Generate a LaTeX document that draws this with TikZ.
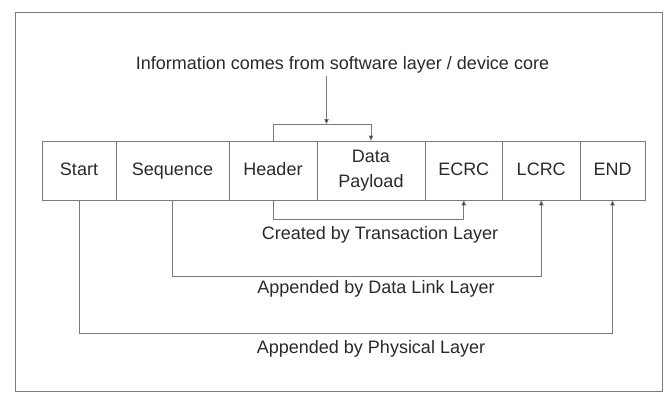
\documentclass[tikz,border=0pt]{standalone}
\usepackage{fontspec}
\setmainfont{Liberation Sans}
\usetikzlibrary{arrows.meta,calc}
\definecolor{linegray}{HTML}{7A7A7A}
\definecolor{textgray}{HTML}{2A2A2A}
\tikzset{
  cell/.style={draw=linegray, line width=0.7pt, rectangle, minimum height=59pt,
    inner sep=0pt, text=textgray, align=center,
    font=\fontsize{18}{25}\selectfont},
  onecell/.style={cell, text height=13pt, text depth=4pt},
  lbl/.style={text=textgray, inner sep=2pt, font=\fontsize{18}{22}\selectfont},
  conn/.style={draw=linegray, line width=0.7pt,
    -{Triangle[length=5pt,width=4.5pt,fill=textgray]}},
}
\begin{document}
\begin{tikzpicture}[x=1pt,y=-1pt]
  \useasboundingbox (0,0) rectangle (665,392);
  \fill[white] (0,0) rectangle (665,392);
  % outer frame
  \draw[draw=linegray, line width=0.7pt] (15,12) rectangle (662,391);

  % source of the packet contents
  \node[lbl] (title) at (342.5,65) {Information comes from software layer / device core};

  % packet fields
  \node[onecell, minimum width=74pt]   (start)   at (79,170.5)     {Start};
  \node[onecell, minimum width=113pt]  (seq)     at (172.5,170.5)  {Sequence};
  \node[onecell, minimum width=88pt]   (header)  at (273,170.5)    {Header};
  \node[cell,    minimum width=108pt]  (payload) at (371,170.5)    {Data\\Payload};
  \node[onecell, minimum width=77.5pt] (ecrc)    at (463.75,170.5) {ECRC};
  \node[onecell, minimum width=77.5pt] (lcrc)    at (541.25,170.5) {LCRC};
  \node[onecell, minimum width=65pt]   (endf)    at (612.5,170.5)  {END};

  % layer labels
  \node[lbl] (tl)  at (380,235) {Created by Transaction Layer};
  \node[lbl] (dll) at (376,289) {Appended by Data Link Layer};
  \node[lbl] (phy) at (371,349) {Appended by Physical Layer};

  % rail heights
  \coordinate (topin)   at (326.5,124);
  \coordinate (tlrail)  at (0,219);
  \coordinate (dllrail) at (0,276);
  \coordinate (phyrail) at (0,333);

  % information feeding header and payload
  \draw[conn] (title.south -| topin) -- (topin);
  \draw[conn] (header.north) -- (header.north |- topin) -| (payload.north);

  % layer brackets
  \draw[conn] (header.south) -- (header.south |- tlrail) -| (ecrc.south);
  \draw[conn] (seq.south) -- (seq.south |- dllrail) -| (lcrc.south);
  \draw[conn] (start.south) -- (start.south |- phyrail) -| (endf.south);
\end{tikzpicture}
\end{document}
